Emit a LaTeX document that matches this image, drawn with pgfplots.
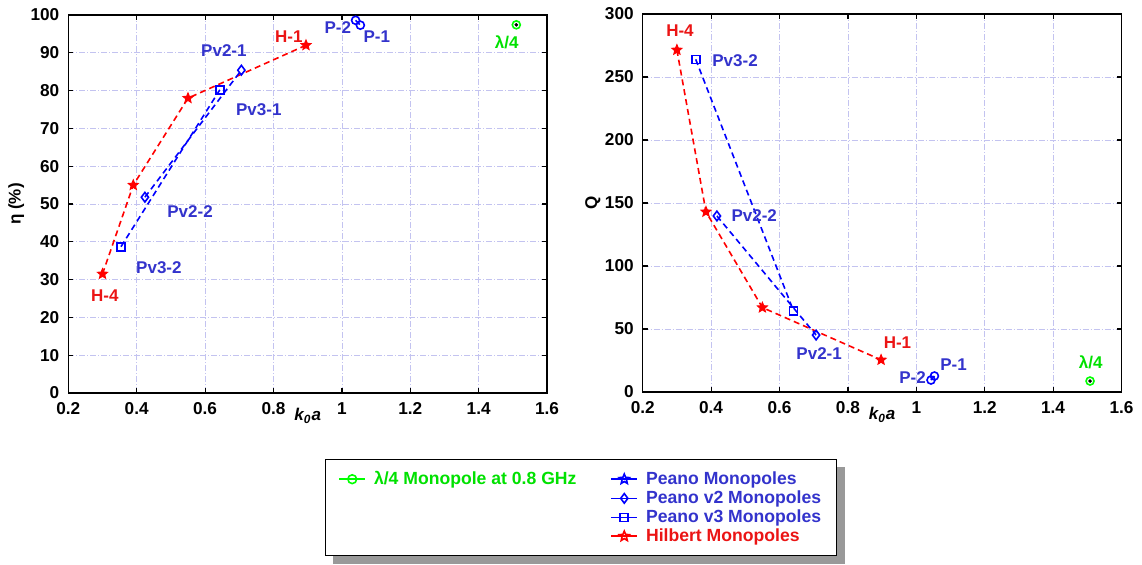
\documentclass[border=0pt]{standalone}
\usepackage{pgfplots}
\pgfplotsset{compat=1.18}
\usepackage{fontspec}
\setmainfont{Liberation Sans}
\usetikzlibrary{backgrounds}

\definecolor{lblue}{RGB}{0,0,255}
\definecolor{tblue}{RGB}{51,51,204}
\definecolor{lred}{RGB}{255,0,0}
\definecolor{tred}{RGB}{235,20,20}
\definecolor{lgreen}{RGB}{0,255,0}
\definecolor{tgreen}{RGB}{0,225,0}
\definecolor{gridc}{RGB}{195,195,240}

% filled five point star
\pgfdeclareplotmark{fstar}{%
  \pgfpathmoveto{\pgfpointpolar{90}{\pgfplotmarksize}}%
  \pgfpathlineto{\pgfpointpolar{126}{0.45\pgfplotmarksize}}%
  \pgfpathlineto{\pgfpointpolar{162}{\pgfplotmarksize}}%
  \pgfpathlineto{\pgfpointpolar{198}{0.45\pgfplotmarksize}}%
  \pgfpathlineto{\pgfpointpolar{234}{\pgfplotmarksize}}%
  \pgfpathlineto{\pgfpointpolar{270}{0.45\pgfplotmarksize}}%
  \pgfpathlineto{\pgfpointpolar{306}{\pgfplotmarksize}}%
  \pgfpathlineto{\pgfpointpolar{342}{0.45\pgfplotmarksize}}%
  \pgfpathlineto{\pgfpointpolar{18}{\pgfplotmarksize}}%
  \pgfpathlineto{\pgfpointpolar{54}{0.45\pgfplotmarksize}}%
  \pgfpathclose
  \pgfusepathqfillstroke
}
% open star for the legend
\pgfdeclareplotmark{ostar}{%
  \pgfpathmoveto{\pgfpointpolar{90}{\pgfplotmarksize}}%
  \pgfpathlineto{\pgfpointpolar{126}{0.45\pgfplotmarksize}}%
  \pgfpathlineto{\pgfpointpolar{162}{\pgfplotmarksize}}%
  \pgfpathlineto{\pgfpointpolar{198}{0.45\pgfplotmarksize}}%
  \pgfpathlineto{\pgfpointpolar{234}{\pgfplotmarksize}}%
  \pgfpathlineto{\pgfpointpolar{270}{0.45\pgfplotmarksize}}%
  \pgfpathlineto{\pgfpointpolar{306}{\pgfplotmarksize}}%
  \pgfpathlineto{\pgfpointpolar{342}{0.45\pgfplotmarksize}}%
  \pgfpathlineto{\pgfpointpolar{18}{\pgfplotmarksize}}%
  \pgfpathlineto{\pgfpointpolar{54}{0.45\pgfplotmarksize}}%
  \pgfpathclose
  \pgfusepathqstroke
}

\tikzset{
  lab/.style={font=\fontsize{8.5}{10}\selectfont\bfseries},
  dline/.style={dash pattern=on 3pt off 2pt, line width=0.8pt},
}

\pgfplotsset{
  mstyle/.style={
    scale only axis,
    width=239.4pt, height=189pt,
    xmin=0.2, xmax=1.6,
    xtick={0.2,0.4,...,1.6},
    grid=major,
    grid style={color=gridc, line width=0.4pt, dash pattern=on 3pt off 1pt on 0.5pt off 1pt},
    axis line style={line width=0.7pt},
    tick align=inside,
    major tick length=2.5pt,
    tick style={black, line width=0.6pt},
    tick label style={font=\fontsize{8.6}{10}\selectfont\bfseries},
    xticklabel style={yshift=-1.2pt},
    yticklabel style={xshift=-1pt},
    /pgf/number format/assume math mode=true,
    label style={font=\fontsize{8.5}{10}\selectfont\bfseries},
    xlabel={\itshape k\textsubscript{0}a},
    xlabel style={at={(axis description cs:0.5,-0.06)}, anchor=center},
  },
}

\begin{document}
\begin{tikzpicture}
\path[use as bounding box] (0,0) rectangle (571pt,-282.5pt);

% ---------------- left: efficiency ----------------
\begin{axis}[
  mstyle,
  at={(34.15pt,-196.5pt)}, anchor=south west,
  ymin=0, ymax=100, ytick={0,10,...,100},
  ylabel={η (\%)},
  ylabel style={at={(axis description cs:-0.109,0.5)}, anchor=center},
  legend columns=2,
  legend cell align=left,
  legend style={
    name=leg,
    at={(axis description cs:0.536,-0.1746)}, anchor=north west,
    draw=black, line width=0.5pt, fill=white,
    inner xsep=6.5pt, inner ysep=5pt,
    row sep=0pt,
    font=\fontsize{8.8}{10}\selectfont\bfseries,
    nodes={inner xsep=1pt, inner ysep=0.8pt},
    /tikz/every odd column/.append style={column sep=3pt},
    /tikz/every even column/.append style={column sep=16pt},
  },
  legend image code/.code={%
    \draw[mark repeat=2, mark phase=2, line width=0.8pt]
      plot coordinates {(0pt,0pt) (6.5pt,0pt) (13pt,0pt)};},
]
% legend entries (images only)
\addlegendimage{lgreen, solid, mark=o, mark size=2.2pt, mark options={solid}}
\addlegendentry{\textcolor{tgreen}{λ/4 Monopole at 0.8 GHz}}
\addlegendimage{lblue, solid, mark=ostar, mark size=2.6pt, mark options={solid}}
\addlegendentry{\textcolor{tblue}{Peano Monopoles}}
\addlegendimage{empty legend}\addlegendentry{}
\addlegendimage{lblue, solid, mark=diamond, mark size=2.4pt, mark options={solid}}
\addlegendentry{\textcolor{tblue}{Peano v2 Monopoles}}
\addlegendimage{empty legend}\addlegendentry{}
\addlegendimage{lblue, solid, mark=square, mark size=2pt, mark options={solid}}
\addlegendentry{\textcolor{tblue}{Peano v3 Monopoles}}
\addlegendimage{empty legend}\addlegendentry{}
\addlegendimage{lred, solid, mark=ostar, mark size=2.6pt, mark options={solid}}
\addlegendentry{\textcolor{tred}{Hilbert Monopoles}}

% Hilbert
\addplot[forget plot, lred, dline, mark=fstar, mark size=2.6pt, mark options={solid, fill=lred, line width=0.5pt}]
  coordinates {(0.30,31.5) (0.39,55) (0.55,78) (0.895,92)};
% Peano v2
\addplot[forget plot, lblue, dline, mark=diamond, mark size=2.4pt, mark options={solid}]
  coordinates {(0.424,51.8) (0.706,85.4)};
% Peano v3
\addplot[forget plot, lblue, dline, mark=square, mark size=2pt, mark options={solid}]
  coordinates {(0.354,38.7) (0.643,80.2)};
% Peano
\addplot[forget plot, lblue, dline, mark=o, mark size=2pt, mark options={solid}]
  coordinates {(1.04,98.6) (1.054,97.3)};
% lambda/4
\addplot[forget plot, lgreen, only marks, mark=o, mark size=2pt, mark options={line width=0.8pt}]
  coordinates {(1.51,97.4)};
\addplot[forget plot, black, only marks, mark=*, mark size=0.7pt]
  coordinates {(1.51,97.4)};

\node[lab, text=tred]   at (axis cs:0.845,94.4) {H-1};
\node[lab, text=tblue]  at (axis cs:0.988,96.8) {P-2};
\node[lab, text=tblue]  at (axis cs:1.102,94.2) {P-1};
\node[lab, text=tgreen] at (axis cs:1.482,92.9) {λ/4};
\node[lab, text=tblue]  at (axis cs:0.655,90.7) {Pv2-1};
\node[lab, text=tblue]  at (axis cs:0.757,74.9) {Pv3-1};
\node[lab, text=tblue]  at (axis cs:0.556,48.1) {Pv2-2};
\node[lab, text=tblue]  at (axis cs:0.465,33.1) {Pv3-2};
\node[lab, text=tred]   at (axis cs:0.307,25.7) {H-4};
\end{axis}

% ---------------- right: quality factor ----------------
\begin{axis}[
  mstyle,
  at={(321.35pt,-196pt)}, anchor=south west,
  ymin=0, ymax=300, ytick={0,50,...,300},
  ylabel={Q},
  ylabel style={at={(axis description cs:-0.104,0.5)}, anchor=center},
]
\addplot[lred, dline, mark=fstar, mark size=2.6pt, mark options={solid, fill=lred, line width=0.5pt}]
  coordinates {(0.30,271.5) (0.385,143) (0.55,67) (0.897,25.5)};
\addplot[lblue, dline, mark=diamond, mark size=2.4pt, mark options={solid}]
  coordinates {(0.417,139.7) (0.707,45.2)};
\addplot[lblue, dline, mark=square, mark size=2pt, mark options={solid}]
  coordinates {(0.355,264) (0.641,64.3)};
\addplot[lblue, dline, mark=o, mark size=2pt, mark options={solid}]
  coordinates {(1.043,9.5) (1.053,12.7)};
\addplot[lgreen, only marks, mark=o, mark size=2pt, mark options={line width=0.8pt}]
  coordinates {(1.508,8.7)};
\addplot[black, only marks, mark=*, mark size=0.7pt]
  coordinates {(1.508,8.7)};

\node[lab, text=tred]   at (axis cs:0.309,286.5) {H-4};
\node[lab, text=tblue]  at (axis cs:0.47,262.7) {Pv3-2};
\node[lab, text=tblue]  at (axis cs:0.526,139.7) {Pv2-2};
\node[lab, text=tblue]  at (axis cs:0.716,30.2) {Pv2-1};
\node[lab, text=tred]   at (axis cs:0.945,38.9) {H-1};
\node[lab, text=tblue]  at (axis cs:0.989,11.1) {P-2};
\node[lab, text=tblue]  at (axis cs:1.109,21.4) {P-1};
\node[lab, text=tgreen] at (axis cs:1.51,23.3) {λ/4};
\end{axis}

% grey shadow behind the legend box
\begin{scope}[on background layer]
  \fill[gray!80] ([xshift=4pt,yshift=-4pt]leg.south west)
    rectangle ([xshift=4pt,yshift=-4pt]leg.north east);
\end{scope}
\end{tikzpicture}
\end{document}
